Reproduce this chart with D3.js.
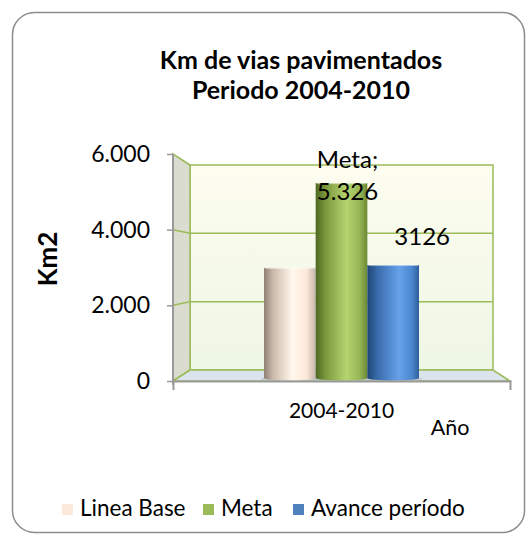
<!DOCTYPE html>
<html>
<head>
<meta charset="utf-8">
<script src="https://cdn.jsdelivr.net/npm/d3@7"></script>
<style>
  body { margin: 0; background: #fff; }
  svg { display: block; font-family: Lato, "Open Sans", sans-serif; }
</style>
</head>
<body>
<div id="chart"></div>
<script>
// data
const categories = ["2004-2010"];
const series = ["Linea Base", "Meta", "Avance período"];
const values = [3050, 5326, 3126];
const yTicks = [0, 2000, 4000, 6000];
const dataLabels = [[], ["Meta;", "5.326"], ["3126"]];
const titleLines = ["Km de vias pavimentados", "Periodo 2004-2010"];

const width = 527, height = 535;

// plot box (3d look: front edge and back wall)
const front = { x0: 173, x1: 510, y0: 381, y1: 154 };
const back = { x0: 190, x1: 493, y0: 370, y1: 165 };

const locale = d3.formatLocale({ decimal: ",", thousands: ".", grouping: [3], currency: ["", ""] });
const fmt = locale.format(",.0f");

const svg = d3.select("#chart").append("svg")
  .attr("width", width)
  .attr("height", height);

const defs = svg.append("defs");

// gradients
const wallGrad = defs.append("linearGradient").attr("id", "wall")
  .attr("x1", 0).attr("y1", 0).attr("x2", 0).attr("y2", 1);
wallGrad.append("stop").attr("offset", 0).attr("stop-color", "#fdfdf0");
wallGrad.append("stop").attr("offset", 1).attr("stop-color", "#eef6e4");

const barStops = {
  "Linea Base": [[0, "#8f7e73"], [0.18, "#cdbbad"], [0.55, "#fff8eb"], [0.82, "#fde9da"], [1, "#c5b5a9"]],
  "Meta": [[0, "#4d6823"], [0.2, "#7d9a3e"], [0.6, "#b5d570"], [0.85, "#97b556"], [1, "#6b8834"]],
  "Avance período": [[0, "#1f4677"], [0.2, "#3a6cab"], [0.62, "#66a2ea"], [0.86, "#4b86ce"], [1, "#2e5e9b"]]
};
const legendColors = { "Linea Base": "#fde9d9", "Meta": "#9bbb59", "Avance período": "#4f81bd" };

series.forEach((s, i) => {
  const g = defs.append("linearGradient").attr("id", "bar" + i)
    .attr("x1", 0).attr("y1", 0).attr("x2", 1).attr("y2", 0);
  barStops[s].forEach(([o, c]) => g.append("stop").attr("offset", o).attr("stop-color", c));
});

// outer frame
svg.append("rect")
  .attr("x", 12.5).attr("y", 12.5)
  .attr("width", 512).attr("height", 520)
  .attr("rx", 22)
  .attr("fill", "#fff")
  .attr("stroke", "#8c8c8c")
  .attr("stroke-width", 1.5);

// title
svg.append("text")
  .attr("x", 301).attr("y", 69)
  .attr("text-anchor", "middle")
  .style("font-weight", "bold").style("font-size", "25px")
  .selectAll("tspan").data(titleLines).enter().append("tspan")
  .attr("x", 301)
  .attr("dy", (d, i) => i ? 30 : 0)
  .text(d => d);

// scales
const yFront = d3.scaleLinear().domain([0, 6000]).range([front.y0, front.y1]);
const yBack = d3.scaleLinear().domain([0, 6000]).range([back.y0, back.y1]);
const yBar = d3.scaleLinear().domain([0, 6000]).range([381.5, 158]);
const x = d3.scaleBand().domain(categories).range([back.x0, back.x1]);

// back wall
svg.append("rect")
  .attr("x", back.x0).attr("y", back.y1)
  .attr("width", back.x1 - back.x0).attr("height", back.y0 - back.y1)
  .attr("fill", "url(#wall)")
  .attr("stroke", "#9bbb59").attr("stroke-width", 1.5);

// side wall
svg.append("polygon")
  .attr("points", [[front.x0, front.y1], [back.x0, back.y1], [back.x0, back.y0], [front.x0, front.y0]].join(" "))
  .attr("fill", "#d9dccf")
  .attr("stroke", "#9bbb59").attr("stroke-width", 1.5);

// floor
svg.append("polygon")
  .attr("points", [[front.x0, front.y0], [back.x0, back.y0], [back.x1, back.y0], [front.x1, front.y0]].join(" "))
  .attr("fill", "#dbe4ec")
  .attr("stroke", "#9bbb59").attr("stroke-width", 1.5);

// gridlines
const grid = svg.append("g").attr("stroke", "#9bbb59").attr("stroke-width", 1.5).attr("fill", "none");
grid.selectAll(".gb").data(yTicks.slice(1, -1)).enter().append("line")
  .attr("x1", back.x0).attr("x2", back.x1)
  .attr("y1", d => yBack(d)).attr("y2", d => yBack(d));
grid.selectAll(".gs").data(yTicks.slice(1, -1)).enter().append("line")
  .attr("x1", front.x0).attr("x2", back.x0)
  .attr("y1", d => yFront(d)).attr("y2", d => yBack(d));

// bars
const cat = categories[0];
const cx = x(cat) + x.bandwidth() / 2;
const xs = d3.scaleBand().domain(series).range([cx - 77.5, cx + 77.5]);
const barBottom = 378;

const bars = svg.append("g");
// soft shadow under the bars
bars.selectAll(".sh").data(series).enter().append("ellipse")
  .attr("cx", d => xs(d) + xs.bandwidth() / 2)
  .attr("cy", barBottom + 1)
  .attr("rx", xs.bandwidth() / 2 + 3).attr("ry", 3)
  .attr("fill", "#b8bec4").attr("opacity", 0.6);

series.forEach((s, i) => {
  const bx = xs(s), bw = xs.bandwidth(), top = yBar(values[i]);
  bars.append("rect")
    .attr("x", bx).attr("y", top)
    .attr("width", bw).attr("height", barBottom - top)
    .attr("fill", `url(#bar${i})`);
  bars.append("ellipse")
    .attr("cx", bx + bw / 2).attr("cy", barBottom)
    .attr("rx", bw / 2).attr("ry", 2.5)
    .attr("fill", `url(#bar${i})`);
  bars.append("line")
    .attr("x1", bx + 1).attr("x2", bx + bw - 1)
    .attr("y1", top + 0.5).attr("y2", top + 0.5)
    .attr("stroke", "#ffffff").attr("stroke-opacity", 0.5);
});

// data labels
const labelOffsets = [[0, 0], [6, -15], [29, -20]];
const lab = svg.append("g").style("font-size", "24px").attr("text-anchor", "middle").attr("fill", "#000");
series.forEach((s, i) => {
  if (!dataLabels[i].length) return;
  const lx = xs(s) + xs.bandwidth() / 2 + labelOffsets[i][0];
  const ly = yBar(values[i]) + labelOffsets[i][1];
  lab.append("text")
    .attr("x", lx).attr("y", ly)
    .selectAll("tspan").data(dataLabels[i]).enter().append("tspan")
    .attr("x", lx).attr("dy", (d, j) => j ? 32 : 0)
    .text(d => d);
});

// y axis
const yAxis = svg.append("g")
  .attr("transform", `translate(${front.x0},0)`)
  .call(d3.axisLeft(yFront).tickValues(yTicks).tickFormat(fmt).tickSize(6).tickSizeOuter(0).tickPadding(17));
yAxis.select(".domain").attr("stroke", "#9a9a9a").attr("stroke-width", 2).attr("d", `M0,${front.y1}V${front.y0 + 4}`);
yAxis.selectAll(".tick line").attr("stroke", "#9a9a9a").attr("stroke-width", 1.5);
yAxis.selectAll(".tick text").style("font-size", "23px").style("font-family", "Lato").attr("fill", "#000");

// x axis
const xFront = d3.scaleBand().domain(categories).range([front.x0, front.x1]);
const xAxis = svg.append("g")
  .attr("transform", `translate(0,${front.y0})`)
  .call(d3.axisBottom(xFront).tickSize(0).tickSizeOuter(9).tickPadding(22));
xAxis.select(".domain").attr("stroke", "#9a9a9a").attr("stroke-width", 2);
xAxis.selectAll(".tick text").style("font-size", "21px").style("font-family", "Lato").attr("fill", "#000");

// axis titles
svg.append("text")
  .attr("transform", "translate(57,259) rotate(-90)")
  .attr("text-anchor", "middle")
  .style("font-weight", "bold").style("font-size", "26px")
  .text("Km2");

svg.append("text")
  .attr("x", 450).attr("y", 435)
  .attr("text-anchor", "middle")
  .style("font-size", "21.5px")
  .text("Año");

// legend
const legendX = [62, 203, 293];
const legend = svg.append("g").selectAll("g").data(series).enter().append("g")
  .attr("transform", (d, i) => `translate(${legendX[i]},504)`);
legend.append("rect")
  .attr("width", 11).attr("height", 11)
  .attr("fill", d => legendColors[d]);
legend.append("text")
  .attr("x", 18).attr("y", 12)
  .style("font-size", "22.5px")
  .text(d => d);
</script>
</body>
</html>
